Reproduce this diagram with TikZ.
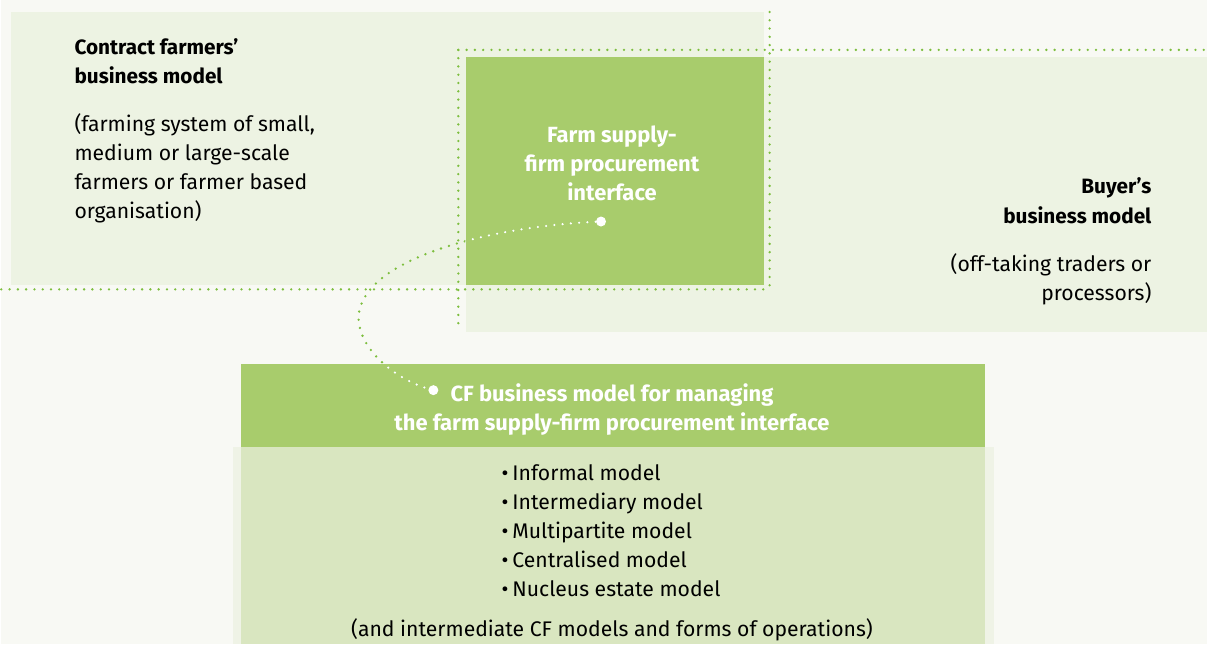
\documentclass[tikz,border=0pt]{standalone}
\usepackage{fontspec}
\setmainfont{Fira Sans}
\usetikzlibrary{positioning}
\definecolor{bgcol}{HTML}{F8F9F4}
\definecolor{palegreen}{HTML}{EDF3E3}
\definecolor{leafgreen}{HTML}{A8CC6C}
\definecolor{listgreen}{HTML}{D9E6C0}
\definecolor{edgegreen}{HTML}{EFF3E6}
\definecolor{dotgreen}{HTML}{7DBE3E}
\pgfdeclarelayer{boxlayer}
\pgfdeclarelayer{edgelayer}
\pgfsetlayers{boxlayer,edgelayer,main}
\tikzstyle{pale_box}=[rectangle,fill=palegreen,anchor=north west,inner sep=0pt]
\tikzstyle{solid_box}=[rectangle,fill=leafgreen,anchor=north west,inner sep=0pt]
\tikzstyle{list_box}=[rectangle,fill=listgreen,anchor=north west,inner sep=0pt]
\tikzstyle{dot_line}=[draw=dotgreen,line width=1.3pt,line cap=round,dash pattern=on 0pt off 4.15pt]
\tikzstyle{white_dot}=[circle,fill=white,minimum size=5pt,inner sep=0pt]
\tikzstyle{head_text}=[font=\bfseries\fontsize{10.4}{14.6}\selectfont,inner sep=0pt]
\tikzstyle{white_text}=[font=\bfseries\fontsize{11}{14.5}\selectfont,text=white,inner sep=0pt]
\tikzstyle{body_text}=[font=\fontsize{10.6}{14.6}\selectfont,inner sep=0pt]
\newcommand{\listdot}{\textbullet\kern2pt}

\begin{document}
\begin{tikzpicture}[x=0.5pt,y=-0.5pt]
	\begin{pgfonlayer}{boxlayer}
		\fill [bgcol] (0,0) rectangle (1208,645);
		\node [style={pale_box}, minimum width=377.5pt, minimum height=136.5pt] (0) at (9, 12) {};
		\node [style={pale_box}, minimum width=371.5pt, minimum height=137.5pt] (1) at (465, 57) {};
		\node [style={solid_box}, minimum width=149.5pt, minimum height=114pt] (2) at (465, 57) {};
		\node [style={solid_box}, minimum width=372.5pt, minimum height=42pt] (3) at (240, 364) {};
		\node [rectangle, fill=edgegreen, anchor=north west, inner sep=0pt, minimum width=381pt, minimum height=98.5pt] (4) at (232, 448) {};
		\node [style={list_box}, minimum width=372.5pt, minimum height=98.5pt] (5) at (240, 448) {};
	\end{pgfonlayer}
	\node [style={white_dot}] (6) at (601, 222) {};
	\node [style={white_dot}] (7) at (433, 391) {};
	\node [style={head_text}, anchor=north west, align=left] (8) at (73, 38) {Contract farmers’\\business model};
	\node [style={body_text}, anchor=north west, align=left] (9) at (73, 113) {(farming system of small,\\medium or large-scale\\farmers or farmer based\\organisation)};
	\node [style={head_text}, anchor=north east, align=right] (10) at (1153, 178) {Buyer’s\\business model};
	\node [style={body_text}, anchor=north east, align=right] (11) at (1153, 254) {(off-taking traders or\\processors)};
	\node [style={white_text}, anchor=north, align=center] (12) at (612, 126) {Farm supply-\\firm procurement\\interface};
	\node [style={white_text}, anchor=north, align=center] (13) at (612, 384) {CF business model for managing\\the farm supply-firm procurement interface};
	\node [style={body_text}, anchor=north west, align=left] (14) at (501, 465) {\listdot Informal model\\\listdot Intermediary model\\\listdot Multipartite model\\\listdot Centralised model\\\listdot Nucleus estate model};
	\node [style={body_text}, anchor=north] (15) at (612, 620) {(and intermediate CF models and forms of operations)};
	\begin{pgfonlayer}{edgelayer}
		\coordinate (a0) at (0, 290);
		\coordinate (a1) at (770, 290);
		\coordinate (a2) at (770, 12);
		\coordinate (b0) at (1208, 50);
		\coordinate (b1) at (458, 50);
		\coordinate (b2) at (458, 330);
		\draw [style={dot_line}] (a0) -- (a1);
		\draw [style={dot_line}] (a2) -- (a1);
		\draw [style={dot_line}] (b1) -- (b0);
		\draw [style={dot_line}] (b1) -- (b2);
		\draw [style={dot_line}] (6) .. controls (480, 228) and (360, 262) .. (358, 318) .. controls (358, 350) and (395, 380) .. (7);
		\begin{scope}
			\clip (2.north west) rectangle (2.south east) (3.north west) rectangle (3.south east);
			\draw [style={dot_line}, draw=white] (6) .. controls (480, 228) and (360, 262) .. (358, 318) .. controls (358, 350) and (395, 380) .. (7);
		\end{scope}
	\end{pgfonlayer}
\end{tikzpicture}
\end{document}
